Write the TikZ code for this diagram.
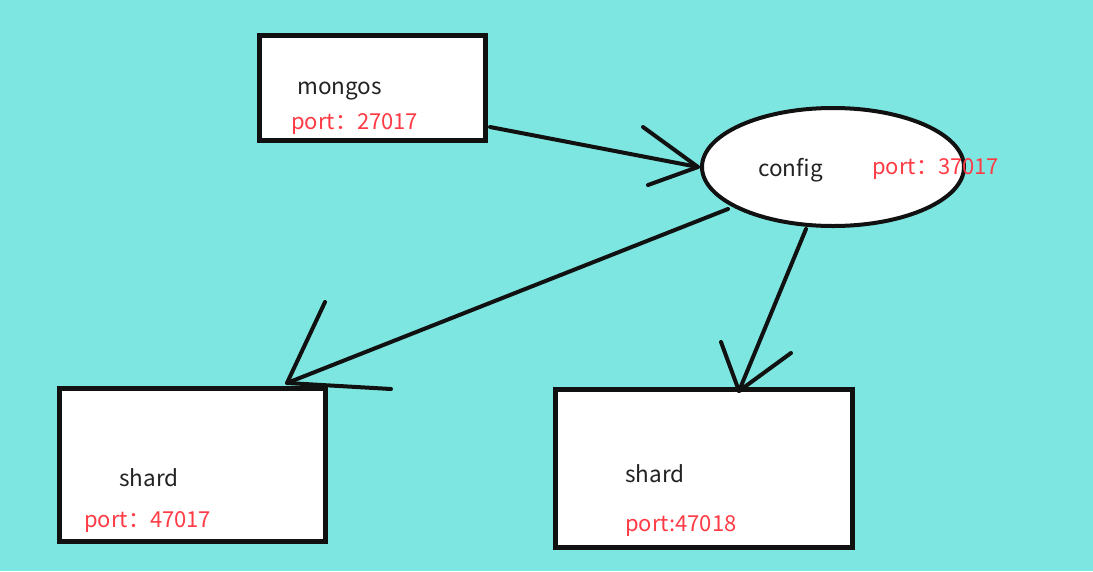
\documentclass[tikz,border=0pt]{standalone}
\usepackage{fontspec}
\usetikzlibrary{shapes.geometric}
\newfontfamily\cjk{Noto Sans CJK SC}
\definecolor{bgcyan}{HTML}{7DE6E1}
\definecolor{inkblack}{HTML}{111111}
\definecolor{nametext}{HTML}{222222}
\definecolor{porttext}{HTML}{FF3B45}
\tikzset{
  boxshape/.style={draw=inkblack, fill=white, line width=5pt, rectangle, inner sep=0pt, outer sep=0pt},
  ellshape/.style={draw=inkblack, fill=white, line width=4pt, ellipse, inner sep=0pt, outer sep=0pt},
  nametxt/.style={font=\cjk\fontsize{22.5}{26}\selectfont, text=nametext, anchor=base west, inner sep=0pt},
  porttxt/.style={font=\cjk\fontsize{22}{26}\selectfont, text=porttext, anchor=base west, inner sep=0pt},
  stroke/.style={draw=inkblack, line width=4pt, line cap=round, line join=round}
}
\begin{document}
\begin{tikzpicture}[x=1pt,y=-1pt]
\fill[bgcyan] (0,0) rectangle (1093,571);
\useasboundingbox (0,0) rectangle (1093,571);
% boxes
\node[boxshape, minimum width=226pt, minimum height=105pt] (mbox) at (372.5,88) {};
\node[ellshape, minimum width=262pt, minimum height=118pt] (cfg) at (833,167) {};
\node[boxshape, minimum width=266pt, minimum height=153pt] (s1box) at (192.5,465) {};
\node[boxshape, minimum width=297pt, minimum height=158pt] (s2box) at (704,468.5) {};
% texts
\node[nametxt] (mname) at (297,94) {mongos};
\node[porttxt] (mport) at (291,129) {port：27017};
\node[nametxt] (cname) at (758,176) {config};
\node[porttxt] (cport) at (872,174) {port：37017};
\node[nametxt] (s1name) at (119,486) {shard};
\node[porttxt] (s1port) at (84,527) {port：47017};
\node[nametxt] (s2name) at (625,482) {shard};
\node[porttxt] (s2port) at (625,531) {port:47018};
% arrow 1: mongos -> config
\coordinate (a1s) at (490,127);
\coordinate (a1t) at (698,167);
\coordinate (a1b1) at (643,127);
\coordinate (a1b2) at (648,185);
\draw[stroke] (a1s) -- (a1t);
\draw[stroke] (a1b1) -- (a1t) -- (a1b2);
% arrow 2: config -> shard 1
\coordinate (a2s) at (728,209);
\coordinate (a2t) at (287,383);
\coordinate (a2b1) at (325,302);
\coordinate (a2b2) at (391,389);
\draw[stroke] (a2s) -- (a2t);
\draw[stroke] (a2b1) -- (a2t) -- (a2b2);
% arrow 3: config -> shard 2
\coordinate (a3s) at (806,229);
\coordinate (a3t) at (739,391);
\coordinate (a3b1) at (721,342);
\coordinate (a3b2) at (791,353);
\draw[stroke] (a3s) -- (a3t);
\draw[stroke] (a3b1) -- (a3t) -- (a3b2);
\end{tikzpicture}
\end{document}
